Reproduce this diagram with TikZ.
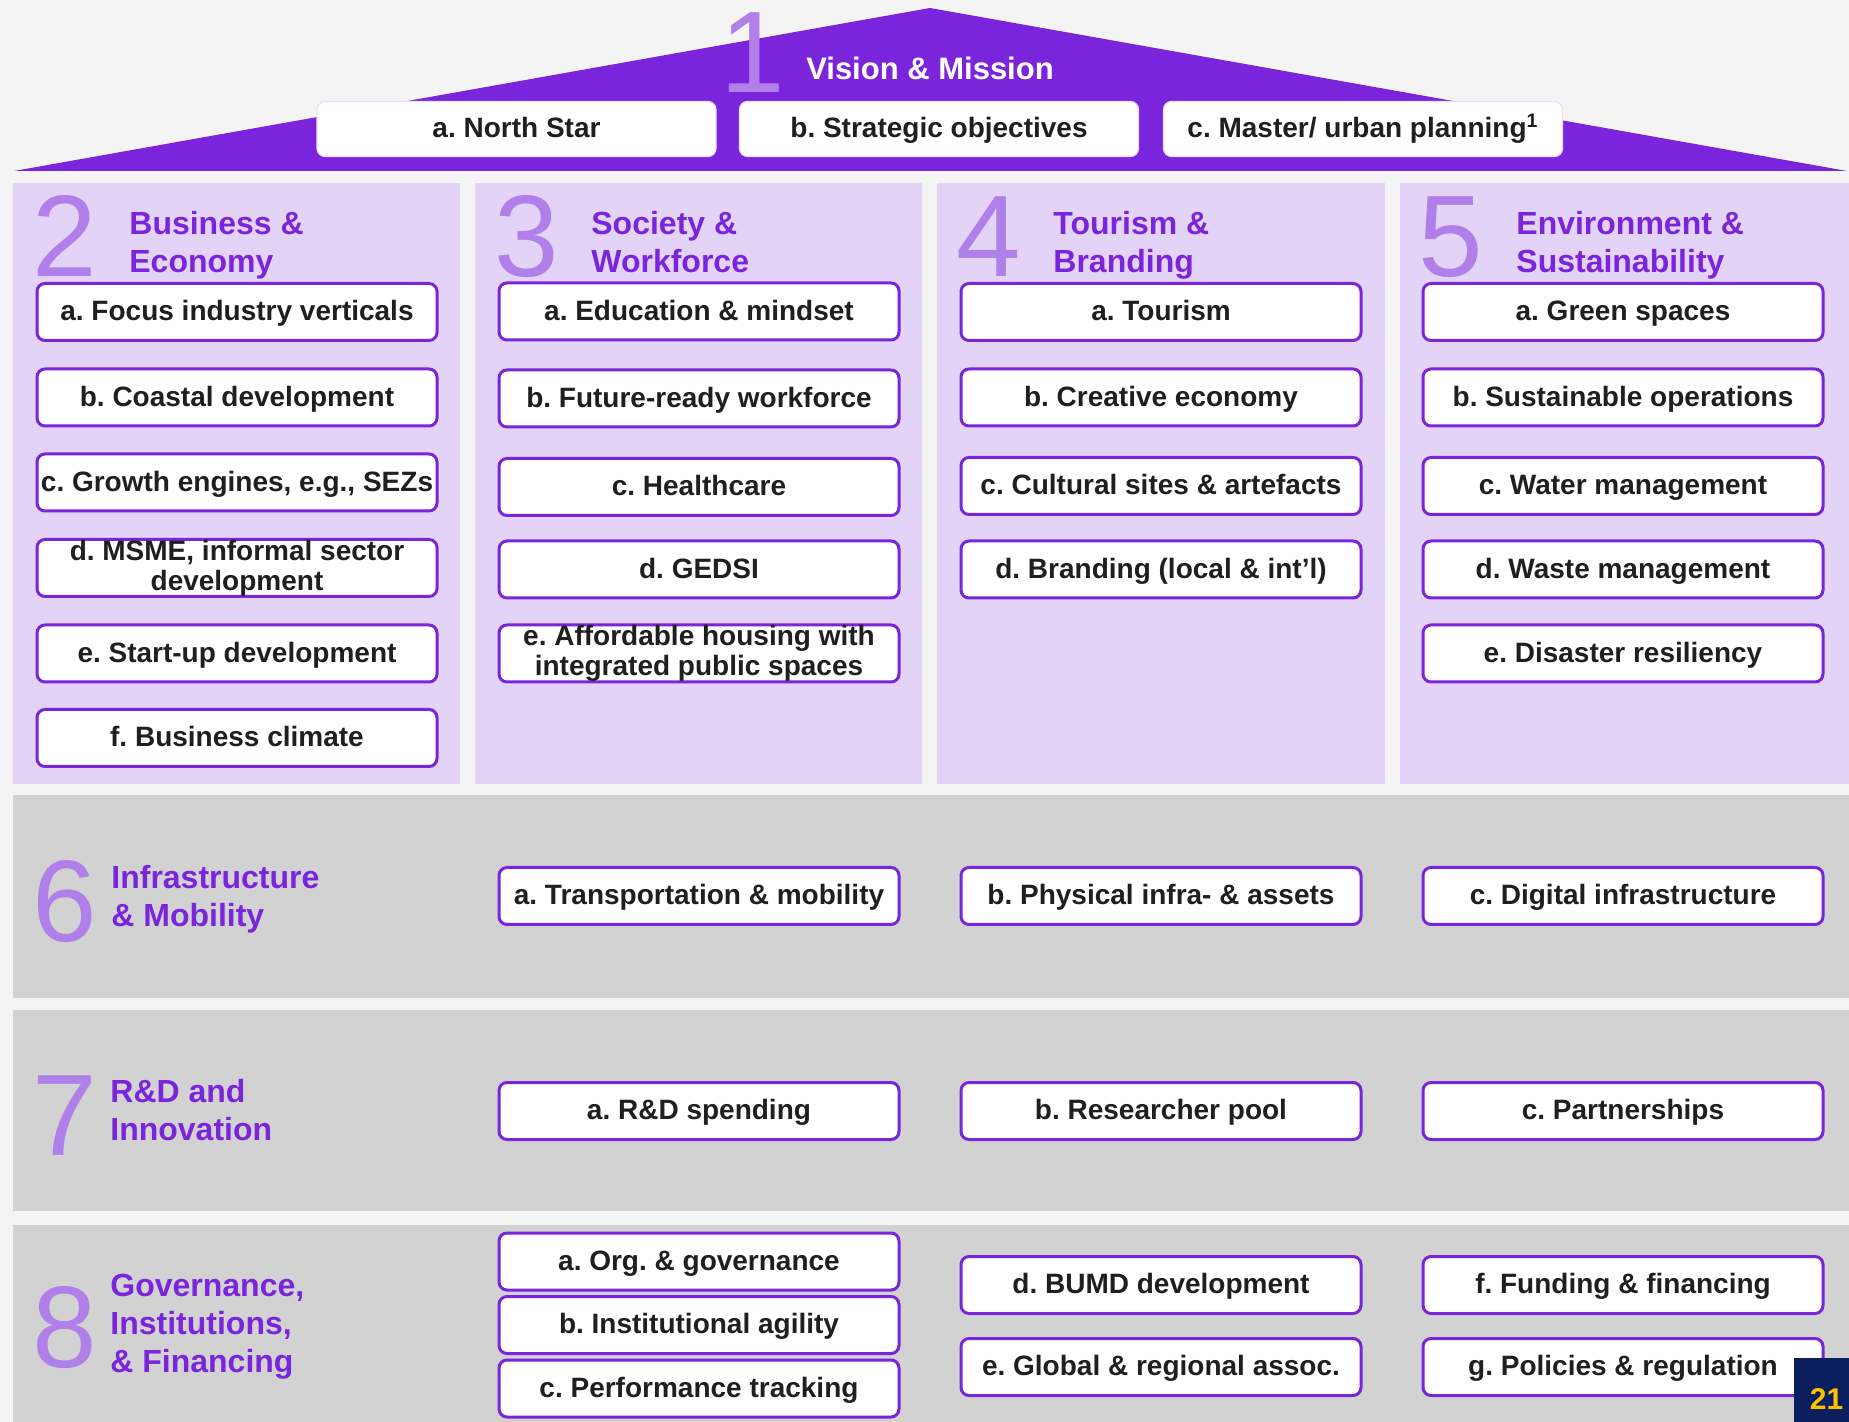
\documentclass[tikz,border=0pt]{standalone}
\usepackage{fontspec}
\setmainfont{Liberation Sans}
\frenchspacing
\definecolor{pagebg}{HTML}{F4F4F4}
\definecolor{vpurple}{HTML}{7A24DC}
\definecolor{panelpurple}{HTML}{E2D3F7}
\definecolor{numpurple}{HTML}{B07FE9}
\definecolor{bandgray}{HTML}{D2D2D2}
\definecolor{textdark}{HTML}{1F1F1F}
\definecolor{pagenavy}{HTML}{0B1F5E}
\definecolor{pageyellow}{HTML}{FFC000}
\newcommand{\itemfont}{\fontsize{14}{15}\bfseries\selectfont}
\newcommand{\headfont}{\fontsize{16}{19}\bfseries\selectfont}
\newcommand{\bignumfont}{\fontsize{58}{58}\selectfont}
\begin{document}
\begin{tikzpicture}[x=0.5pt, y=-0.5pt,
    itemtwo/.style={draw=vpurple, line width=1.5pt, rounded corners=4pt, fill=white,
        minimum width=200pt, minimum height=28.5pt, inner sep=0pt,
        align=center, text=textdark, font=\itemfont},
    item/.style={itemtwo, text height=11pt, text depth=2.3pt},
    topitem/.style={item, draw=white!85!vpurple, line width=0.6pt, minimum width=199.5pt,
        minimum height=27.5pt},
    head/.style={anchor=north west, inner sep=0pt, align=left, text=vpurple, font=\headfont},
    bignum/.style={anchor=base, inner sep=0pt, text=numpurple, font=\bignumfont}]
    \useasboundingbox (0,0) rectangle (1849,1422);
    \fill[pagebg] (0,0) rectangle (1849,1422);

    % roof
    \fill[vpurple] (14,171) -- (930,8) -- (1847,171) -- cycle;
    \node[bignum] (n1) at (753,93) {1};
    \node[anchor=base, inner sep=0pt, text=white, font=\fontsize{15.5}{18}\bfseries\selectfont] (vision) at (930,80) {Vision \& Mission};
    \node[topitem] (vm-a) at (516.5,129) {a. North Star};
    \node[topitem] (vm-b) at (939,129) {b. Strategic objectives};
    \node[topitem] (vm-c) at (1363,129) {c. Master/ urban planning\textsuperscript{1}};

    % pillars
    \fill[panelpurple] (13,183) rectangle (460,784);
    \fill[panelpurple] (475,183) rectangle (922,784);
    \fill[panelpurple] (937,183) rectangle (1385,784);
    \fill[panelpurple] (1400,183) rectangle (1849,784);

    \node[bignum] (n2) at (65,277) {2};
    \node[head] (h2) at (129,211) {Business \&\\Economy};
    \node[item] (be-a) at (237,312) {a. Focus industry verticals};
    \node[item] (be-b) at (237,397.5) {b. Coastal development};
    \node[item] (be-c) at (237,482.5) {c. Growth engines, e.g., SEZs};
    \node[itemtwo] (be-d) at (237,568) {d. MSME, informal sector\\development};
    \node[item] (be-e) at (237,653.5) {e. Start-up development};
    \node[item] (be-f) at (237,738) {f. Business climate};

    \node[bignum] (n3) at (527,277) {3};
    \node[head] (h3) at (591,211) {Society \&\\Workforce};
    \node[item] (sw-a) at (699,311.5) {a. Education \& mindset};
    \node[item] (sw-b) at (699,398.5) {b. Future-ready workforce};
    \node[item] (sw-c) at (699,487) {c. Healthcare};
    \node[item] (sw-d) at (699,569.5) {d. GEDSI};
    \node[itemtwo] (sw-e) at (699,653.5) {e. Affordable housing with\\integrated public spaces};

    \node[bignum] (n4) at (989,277) {4};
    \node[head] (h4) at (1053,211) {Tourism \&\\Branding};
    \node[item] (tb-a) at (1161,312) {a. Tourism};
    \node[item] (tb-b) at (1161,397.5) {b. Creative economy};
    \node[item] (tb-c) at (1161,486) {c. Cultural sites \& artefacts};
    \node[item] (tb-d) at (1161,569.5) {d. Branding (local \& int'l)};

    \node[bignum] (n5) at (1451,277) {5};
    \node[head] (h5) at (1516,211) {Environment \&\\Sustainability};
    \node[item] (es-a) at (1623,312) {a. Green spaces};
    \node[item] (es-b) at (1623,397.5) {b. Sustainable operations};
    \node[item] (es-c) at (1623,486) {c. Water management};
    \node[item] (es-d) at (1623,569.5) {d. Waste management};
    \node[item] (es-e) at (1623,653.5) {e. Disaster resiliency};

    % enablers
    \fill[bandgray] (13,795) rectangle (1849,998);
    \fill[bandgray] (13,1010) rectangle (1849,1211);
    \fill[bandgray] (13,1225) rectangle (1849,1422);

    \node[bignum] (n6) at (65,942) {6};
    \node[head] (h6) at (111,865) {Infrastructure\\\& Mobility};
    \node[item] (im-a) at (699,896) {a. Transportation \& mobility};
    \node[item] (im-b) at (1161,896) {b. Physical infra- \& assets};
    \node[item] (im-c) at (1623,896) {c. Digital infrastructure};

    \node[bignum] (n7) at (65,1155) {7};
    \node[head] (h7) at (110,1079) {R\&D and\\Innovation};
    \node[item] (rd-a) at (699,1111) {a. R\&D spending};
    \node[item] (rd-b) at (1161,1111) {b. Researcher pool};
    \node[item] (rd-c) at (1623,1111) {c. Partnerships};

    \node[bignum] (n8) at (65,1367) {8};
    \node[head] (h8) at (110,1274) {Governance,\\Institutions,\\\& Financing};
    \node[item] (gi-a) at (699,1261.5) {a. Org. \& governance};
    \node[item] (gi-b) at (699,1325) {b. Institutional agility};
    \node[item] (gi-c) at (699,1388.5) {c. Performance tracking};
    \node[item] (gi-d) at (1161,1285) {d. BUMD development};
    \node[item] (gi-e) at (1161,1367) {e. Global \& regional assoc.};
    \node[item] (gi-f) at (1623,1285) {f. Funding \& financing};
    \node[item] (gi-g) at (1623,1367) {g. Policies \& regulation};

    \fill[pagenavy] (1794,1358) rectangle (1849,1422);
    \node[anchor=base, text=pageyellow, inner sep=0pt, font=\fontsize{15}{17}\bfseries\selectfont] (pagenum) at (1826.5,1409) {21};
\end{tikzpicture}
\end{document}
